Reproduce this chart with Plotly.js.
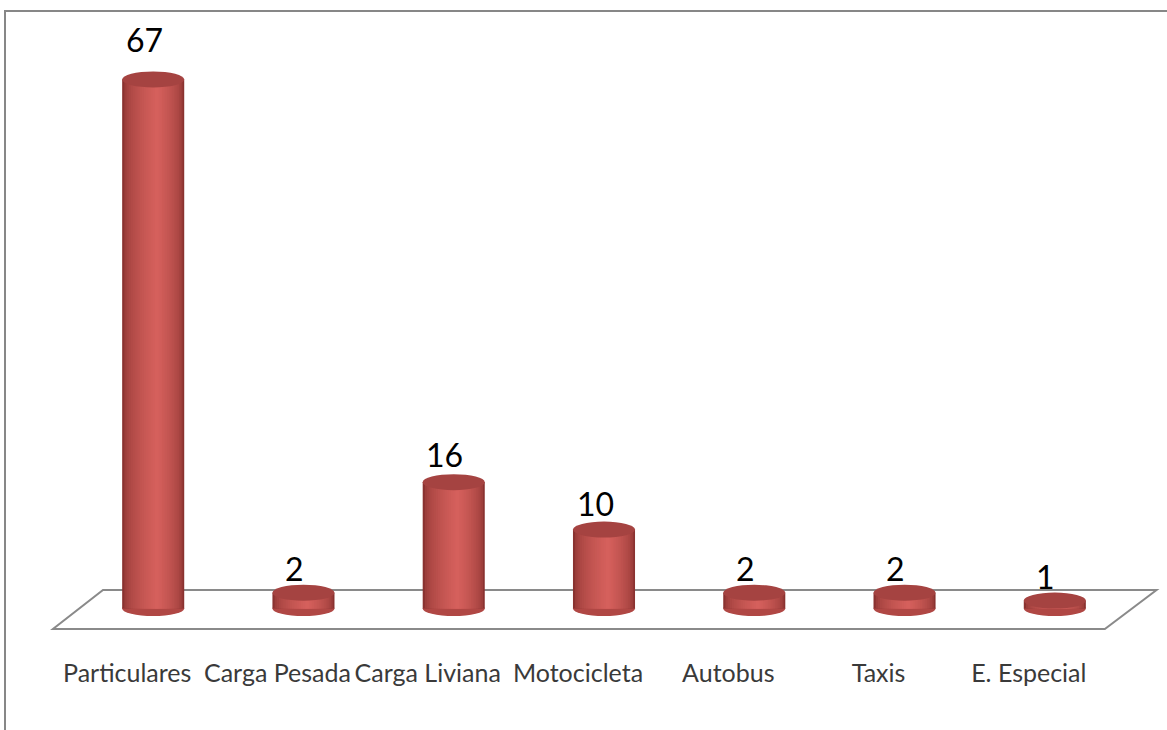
<!DOCTYPE html>
<html>
<head>
<meta charset="utf-8">
<script src="https://cdn.plot.ly/plotly-3.0.1.min.js"></script>
<style>
  html, body { margin: 0; padding: 0; background: #ffffff; }
  #wrap { position: relative; width: 1167px; height: 730px; overflow: hidden; }
  #chart { position: absolute; left: 0; top: 0; width: 1167px; height: 730px; }
  #frame { position: absolute; left: 4px; top: 10px; width: 1200px; height: 800px;
           border-top: 2px solid #878787; border-left: 2px solid #878787; pointer-events: none; }
</style>
</head>
<body>
<div id="wrap">
  <div id="chart"></div>
  <div id="frame"></div>
</div>
<script>
// ---- data ----
const categories = ["Particulares", "Carga Pesada", "Carga Liviana", "Motocicleta", "Autobus", "Taxis", "E. Especial"];
const values = [67, 2, 16, 10, 2, 2, 1];
const valueLabels = ["67", "2", "16", "10", "2", "2", "1"];

// ---- style ----
const BAR_W = 0.413;
const N_LAYERS = 16;
const DARK = [138, 50, 48];
const LIGHT = [213, 96, 92];
const capColor = "#a54341";
const baseColor = "#b04744";
const idx = categories.map((c, i) => i);

function mix(t) {
  const c = DARK.map((d, j) => Math.round(d + (LIGHT[j] - d) * t));
  return "rgb(" + c.join(",") + ")";
}

const traces = [];
for (let k = 0; k < N_LAYERS; k++) {
  const w = BAR_W * (1 - k / N_LAYERS);
  const shift = 0.025 * (k / N_LAYERS);
  const t = Math.sqrt(k / (N_LAYERS - 1));
  traces.push({
    type: "bar",
    x: idx,
    y: values,
    width: idx.map(() => w),
    offset: idx.map(() => -w / 2 + shift),
    marker: { color: mix(t), line: { width: 0 } },
    hoverinfo: "skip",
    showlegend: false
  });
}

const shapes = [];
// floor
shapes.push({
  type: "path", xref: "x", yref: "y", layer: "below",
  path: "M -0.334 2.35 L 6.677 2.35 L 6.333 -2.6 L -0.667 -2.6 Z",
  line: { color: "#8a8a8a", width: 2 }, fillcolor: "rgba(0,0,0,0)"
});
// bottom ellipses
idx.forEach(i => {
  shapes.push({
    type: "circle", xref: "x", yref: "y", layer: "below",
    x0: i - BAR_W / 2, x1: i + BAR_W / 2,
    ysizemode: "pixel", yanchor: 0, y0: -7.5, y1: 7.5,
    fillcolor: baseColor, line: { width: 0 }
  });
});
// top caps
idx.forEach(i => {
  shapes.push({
    type: "circle", xref: "x", yref: "y", layer: "above",
    x0: i - BAR_W / 2, x1: i + BAR_W / 2,
    ysizemode: "pixel", yanchor: values[i], y0: -8, y1: 8,
    fillcolor: capColor, line: { width: 0 }
  });
});

// value labels (slight perspective lift for taller bars)
const annotations = idx.map(i => ({
  x: i, y: values[i] * 1.03, xref: "x", yref: "y",
  text: valueLabels[i], showarrow: false,
  xanchor: "center", yanchor: "middle",
  xshift: -9, yshift: 24,
  font: { family: "Lato, 'Liberation Sans', sans-serif", size: 32, color: "#000000" }
}));

const layout = {
  width: 1167, height: 730,
  margin: { l: 45, r: 4, t: 40, b: 82 },
  paper_bgcolor: "#ffffff", plot_bgcolor: "rgba(0,0,0,0)",
  barmode: "overlay",
  showlegend: false,
  xaxis: {
    range: [-0.72, 6.72],
    tickmode: "array", tickvals: idx, ticktext: categories,
    showgrid: false, zeroline: false, showline: false, ticks: "",
    ticklabelshift: -26, ticklabelstandoff: 8,
    tickfont: { family: "Lato, 'Liberation Sans', sans-serif", size: 25, color: "#3a3a3a" },
    fixedrange: true
  },
  yaxis: {
    range: [-5, 72], visible: false, showgrid: false, zeroline: false, fixedrange: true
  },
  shapes: shapes,
  annotations: annotations
};

Plotly.newPlot("chart", traces, layout, { displayModeBar: false, staticPlot: true });
</script>
</body>
</html>
